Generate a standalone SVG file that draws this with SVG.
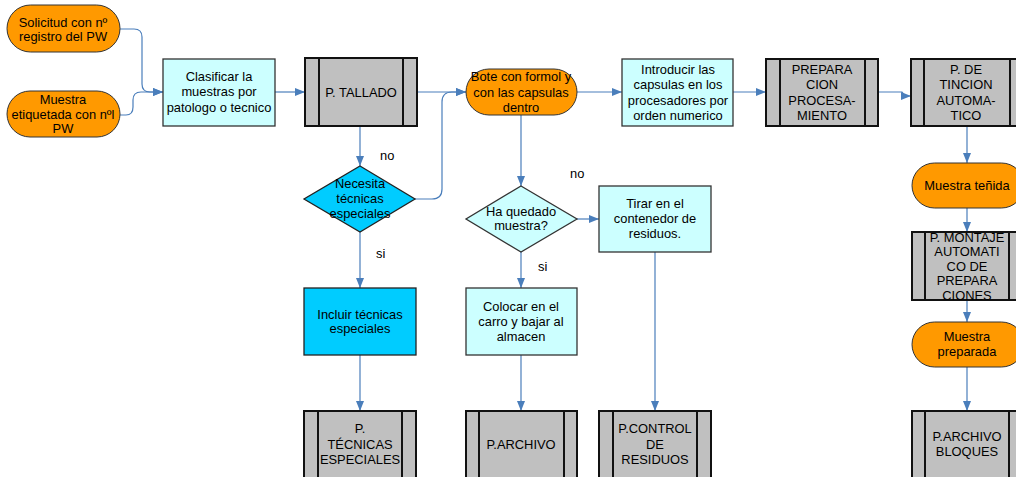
<svg xmlns="http://www.w3.org/2000/svg" width="1016" height="477" viewBox="0 0 1016 477">
<style>
text{font-family:"Liberation Sans",Arial,sans-serif;font-size:12.9px;fill:#000;text-anchor:middle;dominant-baseline:central}
.oval{fill:#FF9900;stroke:#333;stroke-width:1}
.box{fill:#CCFFFF;stroke:#333;stroke-width:1.3}
.dark{fill:#00CCFF;stroke:#222;stroke-width:1.3}
.proc{fill:#C0C0C0;stroke:#111;stroke-width:2}
.pl{stroke:#111;stroke-width:2}
.lbl{text-anchor:start}
#connectors path{fill:none;stroke:#4A7EBB;stroke-width:1.2;marker-end:url(#arr)}
</style>
<defs>
<marker id="arr" markerUnits="userSpaceOnUse" markerWidth="10" markerHeight="8" refX="10" refY="4" orient="auto">
<path d="M0,0 L10,4 L0,8 z" fill="#4A7EBB"/>
</marker>
</defs>
<rect width="1016" height="477" fill="#fff"/>
<g id="connectors">
<path d="M120,29 H134 Q142,29 142,37 V84 Q142,92 150,92 H163"/>
<path d="M120,115 H126 Q133,115 133,107 V100 Q133,92 141,92 H163"/>
<path d="M275,92 H305"/>
<path d="M417,92 H466"/>
<path d="M360,126 V166"/>
<path d="M415,199 H432 Q442,199 442,189 V102 Q442,92 452,92 H466"/>
<path d="M360,232 V288"/>
<path d="M360,355 V411"/>
<path d="M577,92 H622"/>
<path d="M521,115 V186"/>
<path d="M577,219 H599"/>
<path d="M521,252 V288"/>
<path d="M521,355 V411"/>
<path d="M655,252 V411"/>
<path d="M733,92 H766"/>
<path d="M878,92 H902 L905,96 H911"/>
<path d="M967,126 V163"/>
<path d="M967,208 V232"/>
<path d="M967,300 V322"/>
<path d="M967,367 V411"/>
</g>
<g id="solicitud"><rect class="oval" x="7" y="5" width="113" height="47" rx="23.5"/><text x="63" y="22">Solicitud con nº</text><text x="63" y="36">registro del PW</text></g>
<g id="muestra-etiquetada"><rect class="oval" x="7" y="91" width="113" height="46" rx="23"/><text x="63" y="99">Muestra</text><text x="63" y="114">etiquetada con nºl</text><text x="63" y="128">PW</text></g>
<g id="clasificar"><rect class="box" x="163" y="59" width="112" height="67"/><text x="219" y="76">Clasificar la</text><text x="219" y="91">muestras por</text><text x="219" y="107">patologo o tecnico</text></g>
<g id="tallado"><rect class="proc" x="305" y="58" width="112" height="68"/><line class="pl" x1="319" y1="58" x2="319" y2="126"/><line class="pl" x1="403" y1="58" x2="403" y2="126"/><text x="361" y="92">P. TALLADO</text></g>
<g id="necesita"><polygon class="dark" points="360,166 415,199 360,232 304,199"/><text x="360" y="183">Necesita</text><text x="360" y="198">técnicas</text><text x="360" y="213">especiales</text></g>
<g id="incluir"><rect class="dark" x="304" y="288" width="112" height="67"/><text x="360" y="314">Incluir técnicas</text><text x="360" y="328">especiales</text></g>
<g id="tecnicas-especiales"><rect class="proc" x="304" y="411" width="112" height="70"/><line class="pl" x1="318" y1="411" x2="318" y2="481"/><line class="pl" x1="402" y1="411" x2="402" y2="481"/><text x="360" y="428">P.</text><text x="360" y="444">TÉCNICAS</text><text x="360" y="459">ESPECIALES</text></g>
<g id="bote"><rect class="oval" x="466" y="69" width="111" height="46" rx="23"/><text x="521" y="76">Bote con formol y</text><text x="521" y="92">con las capsulas</text><text x="521" y="107">dentro</text></g>
<g id="ha-quedado"><polygon class="box" points="521,186 577,219 521,252 466,219"/><text x="521" y="211">Ha quedado</text><text x="521" y="225">muestra?</text></g>
<g id="colocar"><rect class="box" x="466" y="288" width="111" height="67"/><text x="521" y="306">Colocar en el</text><text x="521" y="321">carro y bajar al</text><text x="521" y="336">almacen</text></g>
<g id="archivo"><rect class="proc" x="466" y="411" width="111" height="70"/><line class="pl" x1="479" y1="411" x2="479" y2="481"/><line class="pl" x1="564" y1="411" x2="564" y2="481"/><text x="521" y="444">P.ARCHIVO</text></g>
<g id="tirar"><rect class="box" x="599" y="186" width="112" height="66"/><text x="655" y="203">Tirar en el</text><text x="655" y="218">contenedor de</text><text x="655" y="233">residuos.</text></g>
<g id="control-residuos"><rect class="proc" x="599" y="411" width="112" height="70"/><line class="pl" x1="613" y1="411" x2="613" y2="481"/><line class="pl" x1="697" y1="411" x2="697" y2="481"/><text x="655" y="428">P.CONTROL</text><text x="655" y="444">DE</text><text x="655" y="459">RESIDUOS</text></g>
<g id="introducir"><rect class="box" x="622" y="59" width="111" height="67"/><text x="678" y="69">Introducir las</text><text x="678" y="84">capsulas en los</text><text x="678" y="100">procesadores por</text><text x="678" y="115">orden numerico</text></g>
<g id="preparacion"><rect class="proc" x="766" y="59" width="112" height="67"/><line class="pl" x1="780" y1="59" x2="780" y2="126"/><line class="pl" x1="865" y1="59" x2="865" y2="126"/><text x="822" y="69">PREPARA</text><text x="822" y="84">CION</text><text x="822" y="100">PROCESA-</text><text x="822" y="115">MIENTO</text></g>
<g id="tincion"><rect class="proc" x="911" y="59" width="112" height="67"/><line class="pl" x1="924" y1="59" x2="924" y2="126"/><line class="pl" x1="1010" y1="59" x2="1010" y2="126"/><text x="966" y="69">P. DE</text><text x="966" y="84">TINCION</text><text x="966" y="100">AUTOMA-</text><text x="966" y="115">TICO</text></g>
<g id="muestra-tenida"><rect class="oval" x="912" y="163" width="112" height="45" rx="22.5"/><text x="967" y="185">Muestra teñida</text></g>
<g id="montaje"><rect class="proc" x="912" y="232" width="112" height="68"/><line class="pl" x1="925" y1="232" x2="925" y2="300"/><line class="pl" x1="1009" y1="232" x2="1009" y2="300"/><text x="967" y="237">P. MONTAJE</text><text x="967" y="251">AUTOMATI</text><text x="967" y="266">CO DE</text><text x="967" y="280">PREPARA</text><text x="967" y="295">CIONES</text></g>
<g id="muestra-preparada"><rect class="oval" x="912" y="322" width="112" height="45" rx="22.5"/><text x="967" y="336">Muestra</text><text x="967" y="351">preparada</text></g>
<g id="archivo-bloques"><rect class="proc" x="912" y="411" width="112" height="70"/><line class="pl" x1="925" y1="411" x2="925" y2="481"/><line class="pl" x1="1009" y1="411" x2="1009" y2="481"/><text x="967" y="436">P.ARCHIVO</text><text x="967" y="451">BLOQUES</text></g>
<g id="labels"><text class="lbl" x="380" y="155">no</text><text class="lbl" x="570" y="173">no</text><text class="lbl" x="376" y="253">si</text><text class="lbl" x="538" y="266">si</text></g>
</svg>
